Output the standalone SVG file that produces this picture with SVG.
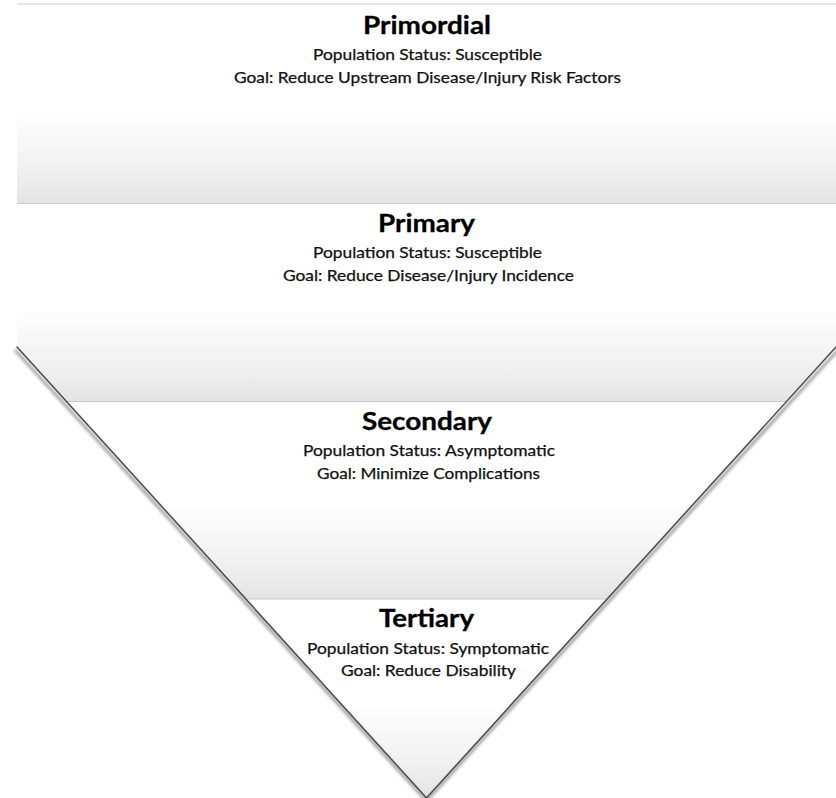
<svg xmlns="http://www.w3.org/2000/svg" width="836" height="798" viewBox="0 0 836 798">
  <defs>
    <!-- each band fades from white to light grey toward its bottom edge -->
    <linearGradient id="bandFill" x1="0" y1="0" x2="0" y2="1">
      <stop offset="0" stop-color="#ffffff"/>
      <stop offset="0.52" stop-color="#ffffff"/>
      <stop offset="0.8" stop-color="#f2f2f2"/>
      <stop offset="1" stop-color="#e4e4e4"/>
    </linearGradient>
    <!-- outline of the funnel: a rectangle that narrows into an inverted triangle -->
    <clipPath id="funnel">
      <polygon points="17,3 836,3 836,347 426.5,798 17,347"/>
    </clipPath>
    <filter id="edgeShadow" x="-10%" y="-10%" width="120%" height="120%">
      <feGaussianBlur stdDeviation="1.6"/>
    </filter>
  </defs>
  <style>
    .band { fill: url(#bandFill); }
    .divider { stroke: #c9c9c9; stroke-width: 1.2; fill: none; }
    .title { font-family: Lato, "Open Sans", "Liberation Sans", sans-serif; font-weight: 700; font-size: 24px; fill: #000000; stroke: #000000; stroke-width: 0.3; text-anchor: middle; }
    .body { font-family: Lato, "Open Sans", "Liberation Sans", sans-serif; font-size: 15px; fill: #111111; stroke: #111111; stroke-width: 0.25; text-anchor: middle; }
    .edge { stroke: #4a4a4a; stroke-width: 1.5; fill: none; stroke-linecap: round; }
    .edge-shadow { stroke: #8c8c8c; stroke-width: 2.5; fill: none; }
  </style>

  <rect width="836" height="798" fill="#ffffff"/>

  <g clip-path="url(#funnel)">
    <g id="primordial">
      <rect class="band" x="17" y="4" width="819" height="199.5"/>
      <line x1="17" y1="4" x2="836" y2="4" stroke="#e6e6e6" stroke-width="2"/>
      <text class="title" x="427" y="34" textLength="128" lengthAdjust="spacingAndGlyphs">Primordial</text>
      <text class="body" x="427.5" y="60" textLength="229" lengthAdjust="spacingAndGlyphs">Population Status: Susceptible</text>
      <text class="body" x="427.5" y="82.5" textLength="387" lengthAdjust="spacingAndGlyphs">Goal: Reduce Upstream Disease/Injury Risk Factors</text>
    </g>

    <g id="primary">
      <rect class="band" x="17" y="203.5" width="819" height="198"/>
      <line class="divider" x1="17" y1="203.5" x2="836" y2="203.5"/>
      <text class="title" x="426.5" y="232" textLength="97" lengthAdjust="spacingAndGlyphs">Primary</text>
      <text class="body" x="427.5" y="258" textLength="229" lengthAdjust="spacingAndGlyphs">Population Status: Susceptible</text>
      <text class="body" x="428.5" y="280.5" textLength="291" lengthAdjust="spacingAndGlyphs">Goal: Reduce Disease/Injury Incidence</text>
    </g>

    <g id="secondary">
      <rect class="band" x="17" y="401.5" width="819" height="197.5"/>
      <line class="divider" x1="17" y1="401.5" x2="836" y2="401.5"/>
      <text class="title" x="427" y="430" textLength="130" lengthAdjust="spacingAndGlyphs">Secondary</text>
      <text class="body" x="429" y="456" textLength="252" lengthAdjust="spacingAndGlyphs">Population Status: Asymptomatic</text>
      <text class="body" x="428.5" y="478.5" textLength="223" lengthAdjust="spacingAndGlyphs">Goal: Minimize Complications</text>
    </g>

    <g id="tertiary">
      <rect class="band" x="17" y="599" width="819" height="199"/>
      <line class="divider" x1="17" y1="599" x2="836" y2="599"/>
      <text class="title" x="426.5" y="627" textLength="95" lengthAdjust="spacingAndGlyphs">Tertiary</text>
      <text class="body" x="428" y="653.5" textLength="242" lengthAdjust="spacingAndGlyphs">Population Status: Symptomatic</text>
      <text class="body" x="428.5" y="676" textLength="175" lengthAdjust="spacingAndGlyphs">Goal: Reduce Disability</text>
    </g>
  </g>

  <!-- slanted sides of the funnel with a soft outer shadow -->
  <g id="outline">
    <polyline class="edge-shadow" filter="url(#edgeShadow)" points="15,350 426.5,801 838,350"/>
    <polyline class="edge" points="17,347 426.5,798 836,347"/>
  </g>
</svg>
